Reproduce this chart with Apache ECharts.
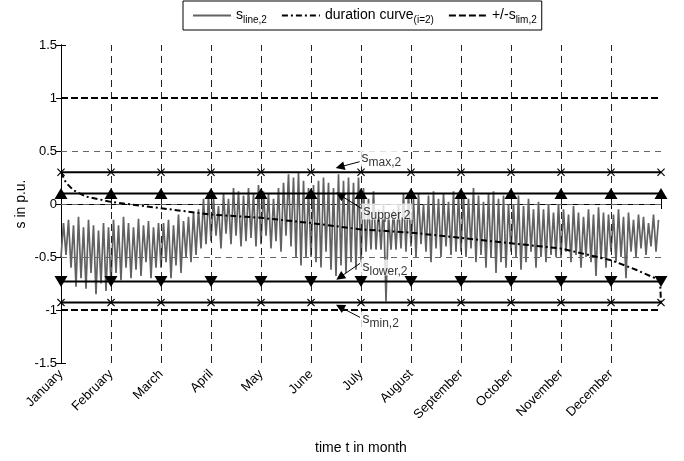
<!DOCTYPE html>
<html lang="en">
<head>
<meta charset="utf-8">
<title>line loading</title>
<script src="https://cdn.jsdelivr.net/npm/echarts@6/dist/echarts.min.js"></script>
</head>
<body style="margin:0;background:#fff">
<div id="chart" style="width:684px;height:461px"></div>
<script>
// x axis: month index, 0 = start of January, 12 = end of December
var months = ['January','February','March','April','May','June','July','August','September','October','November','December'];
var monthTicks = [0,1,2,3,4,5,6,7,8,9,10,11,12];
var gridY = [0.5, 0, -0.5];

// s_line,2: upper / lower swing every 0.1 month
var lineHi = [
  -0.18,-0.15,-0.20,-0.12,-0.22,-0.15,-0.20,-0.25,-0.18,-0.22,
  -0.15,-0.20,-0.12,-0.18,-0.22,-0.14,-0.20,-0.16,-0.22,-0.18,
  -0.18,-0.15,-0.20,-0.10,-0.16,-0.12,-0.08,-0.05, 0.05, 0.08,
   0.05,-0.02, 0.10, 0.05, 0.15, 0.12, 0.08, 0.15, 0.10, 0.18,
   0.12, 0.10, 0.05, 0.15, 0.20, 0.28, 0.25, 0.30, 0.22, 0.15,
   0.18, 0.22, 0.25, 0.20, 0.15, 0.28, 0.22, 0.25, 0.20, 0.25,
   0.15, 0.05, 0.12,-0.05, 0.00,-0.10,-0.05, 0.00, 0.10, 0.10,
   0.05, 0.10, 0.00, 0.08, 0.12, 0.05, 0.10, 0.02, 0.12, 0.08,
   0.10, 0.05, 0.15, 0.08, 0.02, 0.10, 0.12, 0.05, 0.08, 0.00,
   0.00, 0.08,-0.02, 0.05,-0.05, 0.02,-0.05, 0.00,-0.08, 0.00,
  -0.05,-0.10,-0.02,-0.08,-0.12,-0.05,-0.10,-0.03,-0.08,-0.10,
  -0.10,-0.05,-0.12,-0.08,-0.15,-0.10,-0.12,-0.18,-0.10,-0.15
];
var lineLo = [
  -0.50,-0.48,-0.60,-0.78,-0.70,-0.80,-0.65,-0.85,-0.75,-0.82,
  -0.75,-0.65,-0.72,-0.60,-0.70,-0.62,-0.68,-0.55,-0.70,-0.60,
  -0.60,-0.55,-0.70,-0.58,-0.65,-0.50,-0.55,-0.48,-0.42,-0.38,
  -0.35,-0.30,-0.42,-0.28,-0.38,-0.30,-0.40,-0.35,-0.32,-0.40,
  -0.38,-0.30,-0.42,-0.35,-0.45,-0.30,-0.40,-0.50,-0.58,-0.50,
  -0.50,-0.55,-0.60,-0.45,-0.62,-0.68,-0.58,-0.65,-0.55,-0.62,
  -0.55,-0.45,-0.43,-0.43,-0.43,-0.92,-0.43,-0.43,-0.42,-0.45,
  -0.40,-0.50,-0.38,-0.45,-0.55,-0.42,-0.50,-0.40,-0.48,-0.45,
  -0.45,-0.50,-0.42,-0.55,-0.48,-0.60,-0.50,-0.65,-0.55,-0.60,
  -0.45,-0.50,-0.62,-0.55,-0.45,-0.60,-0.50,-0.55,-0.48,-0.50,
  -0.50,-0.45,-0.55,-0.48,-0.60,-0.50,-0.55,-0.68,-0.52,-0.60,
  -0.45,-0.55,-0.50,-0.70,-0.45,-0.50,-0.42,-0.48,-0.40,-0.45
];

// duration curve (i=2)
var durX = [0, 0.1, 0.25, 0.5, 1, 2, 3, 4, 5, 6, 7, 8, 9, 10, 11, 11.5, 11.98, 12];
var durY = [0.30, 0.20, 0.13, 0.07, 0.02, -0.04, -0.10, -0.13, -0.18, -0.24, -0.27, -0.32, -0.37, -0.42, -0.53, -0.62, -0.72, -0.93];

// limits
var sMax = 0.3, sUpper = 0.1, sLower = -0.73, sMin = -0.93, sLim = 1;

// annotations (data coordinates)
var annotNames = ['max,2', 'upper,2', 'lower,2', 'min,2'];
var annotText = [[5.96, 0.43], [6.0, -0.07], [5.98, -0.6], [5.98, -1.09]];
var annotFrom = [[5.98, 0.40], [6.0, -0.04], [5.98, -0.56], [5.98, -1.07]];
var annotTip = [[5.58, 0.35], [5.58, 0.085], [5.58, -0.69], [5.58, -0.97]];

var FONT = 'Liberation Sans, Arial, Helvetica, sans-serif';
var XMARK = 'path://M0,1L1,0L5,4L9,0L10,1L6,5L10,9L9,10L5,6L1,10L0,9L4,5Z';

var lineData = [];
for (var i = 0; i < lineHi.length; i++) {
  lineData.push([i * 0.1, lineLo[i]]);
  lineData.push([i * 0.1 + 0.05, lineHi[i]]);
}
var durData = durX.map(function (x, i) { return [x, durY[i]]; });

// dashed grid drawn as mark lines so it sits over the gray signal
var gridMarks = monthTicks.slice(1, 12).map(function (m) {
  return { xAxis: m, lineStyle: { color: '#222', type: [7, 5], width: 1 } };
}).concat(gridY.map(function (v) {
  return { yAxis: v, lineStyle: { color: '#666', type: [6, 5], width: 1 } };
}));

function level(v, sym, rot, size) {
  return {
    type: 'line', data: monthTicks.map(function (m) { return [m, v]; }),
    symbol: sym, symbolRotate: rot, symbolSize: size, showSymbol: true,
    lineStyle: { color: '#000', width: 2 }, itemStyle: { color: '#000' },
    clip: false, z: 6, silent: true
  };
}
function limit(v) {
  return {
    name: 'slim', type: 'line', data: [[0, v], [12, v]], symbol: 'none',
    lineStyle: { color: '#000', width: 2, type: [7, 3] }, itemStyle: { color: '#000' },
    z: 4, silent: true
  };
}

var legendText = { sline: '{m|s}{sub|line,2}', duration: '{m|duration curve}{sub|(i=2)}', slim: '{m|+/-s}{sub|lim,2}' };

var chart = echarts.init(document.getElementById('chart'));
chart.setOption({
  animation: false,
  backgroundColor: '#fff',
  textStyle: { fontFamily: FONT },
  legend: {
    data: ['sline', 'duration', 'slim'],
    left: 183, top: 1,
    itemWidth: 38, itemHeight: 14, itemGap: 14,
    padding: [5, 5, 5, 9],
    borderColor: '#000', borderWidth: 1, backgroundColor: '#fff',
    itemStyle: { opacity: 0 },
    formatter: function (n) { return legendText[n]; },
    textStyle: {
      fontFamily: FONT, color: '#000', fontSize: 14,
      rich: {
        m: { fontFamily: FONT, fontSize: 14, color: '#000', lineHeight: 15 },
        sub: { fontFamily: FONT, fontSize: 10, color: '#000', lineHeight: 11, padding: [9, 0, 0, 0] }
      }
    }
  },
  grid: { left: 61, right: 23, top: 45, bottom: 98 },
  xAxis: [{
    type: 'value', min: 0, max: 12, interval: 1,
    name: 'time t in month', nameLocation: 'middle', nameGap: 78, nameMoveOverlap: false,
    nameTextStyle: { fontFamily: FONT, fontSize: 14, color: '#000' },
    axisLine: { show: true, lineStyle: { color: '#000', width: 1 } },
    axisTick: { show: true, inside: true, length: 5, lineStyle: { color: '#000' } },
    axisLabel: {
      rotate: 45, margin: 9, fontFamily: FONT, fontSize: 13, color: '#000',
      formatter: function (v) { return months[v] || ''; }
    },
    splitLine: { show: false }
  }, {
    type: 'value', min: 0, max: 12, interval: 1, position: 'top',
    axisLine: { show: true, lineStyle: { color: '#000', width: 1 } },
    axisTick: { show: true, inside: true, length: 5, lineStyle: { color: '#000' } },
    axisLabel: { show: false }, splitLine: { show: false }
  }],
  yAxis: [{
    type: 'value', min: -1.5, max: 1.5, interval: 0.5,
    name: 's in p.u.', nameLocation: 'middle', nameGap: 33, nameRotate: 90, nameMoveOverlap: false,
    nameTextStyle: { fontFamily: FONT, fontSize: 14, color: '#000' },
    axisLine: { show: true, lineStyle: { color: '#000', width: 1 } },
    axisTick: { show: true, inside: true, length: 5, lineStyle: { color: '#000' } },
    axisLabel: { fontFamily: FONT, fontSize: 13, color: '#000', margin: 4 },
    splitLine: { show: false }
  }, {
    type: 'value', min: -1.5, max: 1.5, interval: 0.5, position: 'right',
    axisLine: { show: true, lineStyle: { color: '#000', width: 1 } },
    axisTick: { show: true, inside: true, length: 5, lineStyle: { color: '#000' } },
    axisLabel: { show: false }, splitLine: { show: false }
  }],
  series: [
    {
      name: 'sline', type: 'line', data: lineData, symbol: 'none',
      lineStyle: { color: '#626262', width: 1.7 }, itemStyle: { color: '#626262' },
      z: 2, silent: true,
      markLine: {
        silent: true, symbol: 'none', label: { show: false }, z: 3,
        data: gridMarks
      }
    },
    {
      name: 'duration', type: 'line', data: durData, symbol: 'none',
      lineStyle: { color: '#000', width: 2, type: [6, 3, 2, 3] }, itemStyle: { color: '#000' },
      clip: false, z: 4, silent: true
    },
    limit(sLim),
    limit(-sLim),
    level(sMax, XMARK, 0, 8),
    level(sUpper, 'triangle', 0, [13, 11]),
    level(sLower, 'triangle', 180, [13, 11]),
    level(sMin, XMARK, 0, 8),
    {
      type: 'scatter', silent: true, z: 10,
      data: annotText.map(function (p, i) { return { value: p, name: annotNames[i] }; }),
      symbol: 'circle', symbolSize: 1, itemStyle: { color: 'rgba(0,0,0,0)' },
      label: {
        show: true, position: 'right', distance: 0,
        backgroundColor: '#fff', padding: [1, 2, 1, 2],
        formatter: function (p) { return '{s|s}{sub|' + p.name + '}'; },
        rich: {
          s: { fontFamily: FONT, fontSize: 14, color: '#000', lineHeight: 14 },
          sub: { fontFamily: FONT, fontSize: 12, color: '#000', lineHeight: 12, padding: [9, 0, 0, 0] }
        }
      },
      markLine: {
        silent: true,
        symbol: ['none', 'triangle'], symbolSize: 9,
        lineStyle: { color: '#000', width: 1, type: 'solid' },
        label: { show: false },
        data: annotFrom.map(function (f, i) { return [{ coord: f }, { coord: annotTip[i] }]; })
      }
    }
  ]
});
</script>
</body>
</html>
